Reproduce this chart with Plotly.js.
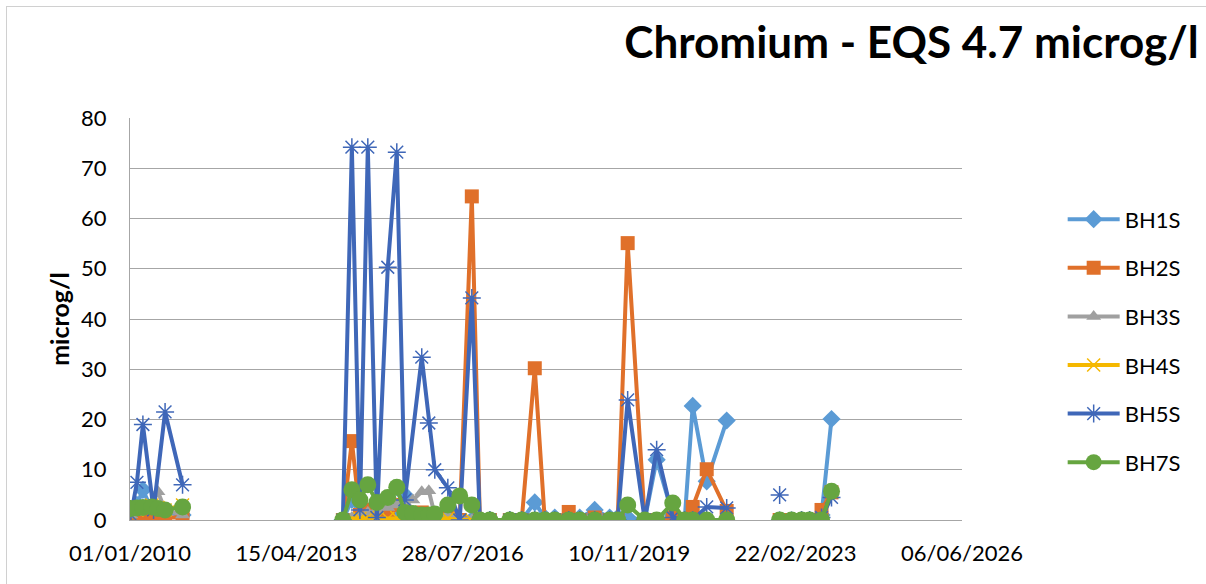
<!DOCTYPE html>
<html>
<head>
<meta charset="utf-8">
<script src="https://cdn.plot.ly/plotly-3.0.1.min.js"></script>
<style>
  html, body { margin: 0; padding: 0; background: #ffffff; }
  #frame { position: absolute; left: 6px; top: 6px; width: 1300px; height: 700px;
           border-top: 1px solid #d0d0d0; border-left: 1px solid #d0d0d0; pointer-events: none; }
  #chart { width: 1206px; height: 584px; }
</style>
</head>
<body>
<div id="chart"></div>
<div id="frame"></div>
<script>
// ---- data ----
const seriesNames = ["BH1S", "BH2S", "BH3S", "BH4S", "BH5S", "BH7S"];

// sampling dates per cluster
const datesC1 = ["2010-01-08","2010-02-20","2010-04-04","2010-06-08","2010-07-22","2010-09-11","2011-01-15"];
const datesC2 = ["2014-03-16","2014-05-20","2014-07-17","2014-09-12","2014-11-16","2015-02-03","2015-04-09",
                 "2015-06-06","2015-08-03","2015-10-06","2015-11-26","2016-01-08","2016-04-11","2016-07-06",
                 "2016-10-01","2016-11-28","2017-02-08"];
const datesC3 = ["2017-07-02","2017-09-26","2017-12-29","2018-03-11","2018-05-22","2018-08-31","2018-11-18",
                 "2019-03-06","2019-06-22"];
const datesC4 = ["2019-08-19","2019-10-30","2020-03-01","2020-05-26","2020-09-19","2020-12-14","2021-02-10",
                 "2021-05-22","2021-10-13"];
const datesC5 = ["2022-10-30","2023-01-24","2023-04-06","2023-06-03","2023-08-28","2023-11-08"];
const gapDate1 = "2012-06-01";
const gapDate2 = "2022-04-01";

const bh1sC1 = [2, 3, 6, 2, 1.5, 1.5, 1];
const bh1sC2 = [0, 4, 1, 1, 1, 1, 2, 5, 1, 1, 0.5, 0.5, 0.5, 0, 0, 0, 0];
const bh1sC3 = [0, 0, 3.5, 0.5, 0.5, 0.5, 0.5, 2, 0.5];
const bh1sC4 = [0.5, 0.5, 0, 12, 1, 0, 22.7, 7.7, 19.8];
const bh1sC5 = [0, 0, 0, 0, 1, 20.1];

const bh2sC1 = [0, 0.5, 1, 0.5, 0.5, 0.5, 0.5];
const bh2sC2 = [0, 15.7, 1, 2, 0.5, 2, 3, 0, 1, 1.5, 1, 1, 0.5, 0, 64.4, 0, 0];
const bh2sC3 = [0, 0, 30.2, 0, 0, 1.6, 0, 0.5, 0];
const bh2sC4 = [0, 55.1, 0, 0, 0.5, 0, 2.6, 10.1, 1.8];
const bh2sC5 = [0, 0, 0, 0, 2, 5.5];

const bh3sC1 = [1, 1.5, 2, 3, 5.6, 2, 1];
const bh3sC2 = [0, 0.5, 1, 1.5, 2, 2.5, 3, 3.5, 4, 5.6, 5.8, 1, 1, 0.5, 0, 0, 0];
const bh3sC3 = [0, 0, 0, 0, 0, 0, 0, 0, 0];

const bh4sC1 = [1, 2, 2.5, 3, 2.5, 2, 3];
const bh4sC2 = [0, 0.3, 0.3, 0.5, 0.3, 0.3, 0.5, 0.3, 0.3, 0.5, 0.3, 0.3, 0.3, 0, 0, 0, 0];
const bh4sC3 = [0, 0, 0, 0, 0, 0, 0, 0, 0];

const bh5sDatesC1 = ["2010-01-08","2010-02-20","2010-04-04","2010-06-20","2010-09-11","2011-01-15"];
const bh5sC1 = [1, 7.5, 19, 2, 21.5, 7];
const bh5sDatesC2 = ["2014-03-16","2014-05-20","2014-07-17","2014-09-12","2014-11-16","2015-02-03","2015-04-09",
                     "2015-06-06","2015-10-06","2015-11-26","2016-01-08","2016-04-11","2016-07-06",
                     "2016-10-01","2016-11-28","2017-02-08"];
const bh5sC2 = [0, 74.2, 2, 74.2, 0.5, 50.3, 73.2, 4, 32.4, 19.3, 10, 6.4, 0, 44.2, 0, 0];
const bh5sC3 = [0, 0, 0, 0, 0, 0, 0, 0, 0];
const bh5sC4 = [0, 23.9, 0, 14, 0.5, 0, 0, 2.6, 2.4];
const bh5sDatesC5 = ["2022-10-30","2023-01-24","2023-04-06","2023-06-03","2023-08-28","2023-11-08"];
const bh5sC5 = [5, null, 0, 0, 0.5, 4.5];

const bh7sC1 = [2.3, 2.4, 2.5, 2.6, 2.3, 2, 2.6];
const bh7sC2 = [0, 6, 4, 7, 3.5, 4.5, 6.5, 1.5, 1.3, 1, 1, 1.2, 3, 4.8, 3, 0, 0];
const bh7sC3 = [0, 0, 0, 0, 0, 0, 0, 0, 0];
const bh7sC4 = [0, 3, 0, 0, 3.4, 0, 0, 0, 0];
const bh7sC5 = [0, 0, 0, 0, 0, 5.7];

const yTickVals = [0, 10, 20, 30, 40, 50, 60, 70, 80];
const xTickVals = ["2010-01-01","2013-04-15","2016-07-28","2019-11-10","2023-02-22","2026-06-06"];
const xTickText = ["01/01/2010","15/04/2013","28/07/2016","10/11/2019","22/02/2023","06/06/2026"];

// ---- build series ----
function join(parts) {
  // parts: list of {d, v, gap}; a null point is inserted at the gap date to break the line
  const x = [], y = [];
  parts.forEach((p, i) => {
    if (i > 0 && p.gap) { x.push(p.gap); y.push(null); }
    x.push(...p.d); y.push(...p.v);
  });
  return {x, y};
}

const s1 = join([{d: datesC1, v: bh1sC1}, {d: datesC2, v: bh1sC2, gap: gapDate1},
                 {d: datesC3, v: bh1sC3}, {d: datesC4, v: bh1sC4}, {d: datesC5, v: bh1sC5, gap: gapDate2}]);
const s2 = join([{d: datesC1, v: bh2sC1}, {d: datesC2, v: bh2sC2, gap: gapDate1},
                 {d: datesC3, v: bh2sC3}, {d: datesC4, v: bh2sC4}, {d: datesC5, v: bh2sC5, gap: gapDate2}]);
const s3 = join([{d: datesC1, v: bh3sC1}, {d: datesC2, v: bh3sC2, gap: gapDate1}, {d: datesC3, v: bh3sC3}]);
const s4 = join([{d: datesC1, v: bh4sC1}, {d: datesC2, v: bh4sC2, gap: gapDate1}, {d: datesC3, v: bh4sC3}]);
const s5 = join([{d: bh5sDatesC1, v: bh5sC1}, {d: bh5sDatesC2, v: bh5sC2, gap: gapDate1},
                 {d: datesC3, v: bh5sC3}, {d: datesC4, v: bh5sC4}, {d: bh5sDatesC5, v: bh5sC5, gap: gapDate2}]);
const s7 = join([{d: datesC1, v: bh7sC1}, {d: datesC2, v: bh7sC2, gap: gapDate1},
                 {d: datesC3, v: bh7sC3}, {d: datesC4, v: bh7sC4}, {d: datesC5, v: bh7sC5, gap: gapDate2}]);

const colors = ["#5B9BD5", "#E0702A", "#A0A0A0", "#F5B800", "#3F67B8", "#66A540"];
const markers = [
  {symbol: "diamond", size: 14, color: colors[0]},
  {symbol: "square", size: 14, color: colors[1]},
  {symbol: "triangle-up", size: 13, color: colors[2]},
  {symbol: "x-thin-open", size: 13, color: colors[3], line: {width: 1.5, color: colors[3]}},
  {symbol: "asterisk-open", size: 15, color: colors[4], line: {width: 1.5, color: colors[4]}},
  {symbol: "circle", size: 17, color: colors[5]}
];
const sets = [s1, s2, s3, s4, s5, s7];

const traces = sets.map((s, i) => ({
  type: "scatter",
  mode: "lines+markers",
  name: seriesNames[i],
  legendgroup: seriesNames[i],
  x: s.x, y: s.y,
  connectgaps: false,
  line: {color: colors[i], width: 4},
  marker: markers[i]
}));

const baseFont = "Lato, 'Open Sans', 'DejaVu Sans', sans-serif";

const layout = {
  width: 1206, height: 584,
  margin: {l: 130, r: 244, t: 118, b: 64},
  paper_bgcolor: "#ffffff", plot_bgcolor: "#ffffff",
  font: {family: baseFont, size: 22, color: "#000000"},
  title: {
    text: "<b>Chromium - EQS 4.7 microg/l</b>",
    font: {family: baseFont, size: 44, color: "#000000"},
    x: 0.994, xref: "container", xanchor: "right",
    y: 0.927, yref: "container", yanchor: "middle"
  },
  xaxis: {
    type: "date",
    range: ["2010-01-01", "2026-06-06"],
    tickvals: xTickVals, ticktext: xTickText,
    showgrid: false, zeroline: false,
    showline: true, linecolor: "#a6a6a6", linewidth: 1,
    ticks: "", ticklabelstandoff: 14,
    tickfont: {size: 22}
  },
  yaxis: {
    range: [0, 80],
    tickvals: yTickVals,
    showgrid: true, gridcolor: "#a6a6a6", gridwidth: 1,
    zeroline: false,
    showline: true, linecolor: "#a6a6a6", linewidth: 1,
    ticks: "", ticklabelstandoff: 18,
    tickfont: {size: 22},
    title: {text: "<b>microg/l</b>", font: {size: 25}, standoff: 4}
  },
  legend: {
    x: 1.121, xanchor: "left",
    y: 0.80, yanchor: "top",
    font: {size: 22},
    tracegroupgap: 17,
    itemwidth: 52,
    bgcolor: "rgba(0,0,0,0)"
  },
  showlegend: true
};

Plotly.newPlot("chart", traces, layout, {displayModeBar: false, staticPlot: true});
</script>
</body>
</html>
